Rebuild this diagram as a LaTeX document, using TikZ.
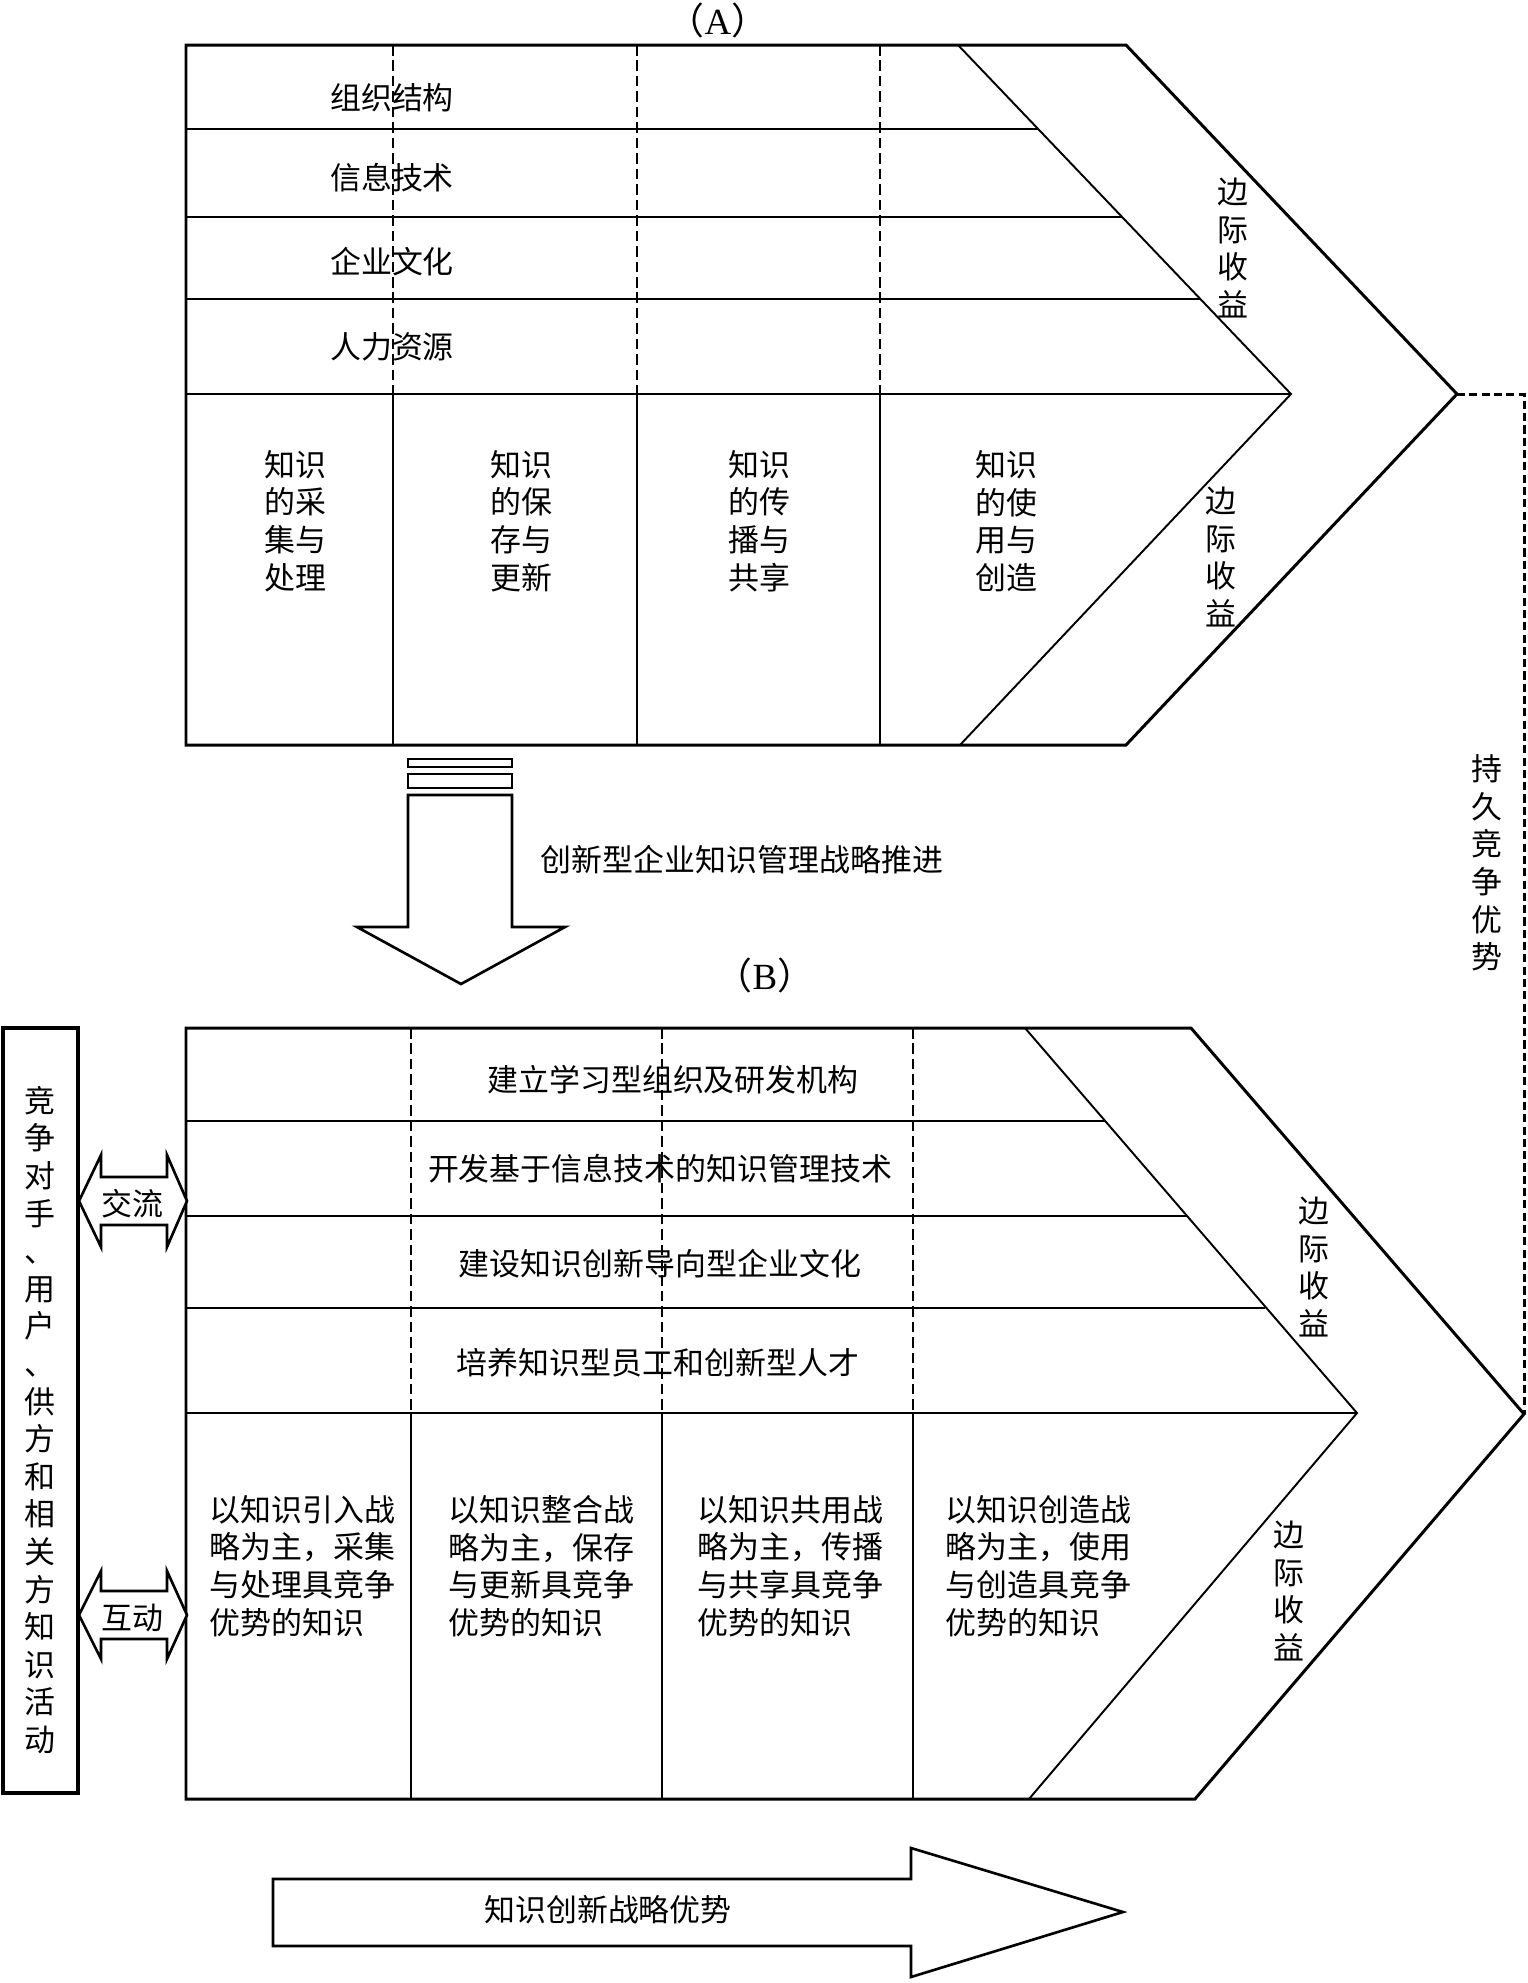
\documentclass[tikz,border=0pt]{standalone}
\usepackage{fontspec}
\setmainfont{Liberation Serif}
\newfontfamily\cjk{Noto Sans CJK SC}
\usetikzlibrary{calc}
\tikzset{
  frame/.style={draw=black, line width=0.85pt, line join=miter},
  rowline/.style={draw=black, line width=0.55pt},
  dashcol/.style={draw=black, line width=0.55pt, dash pattern=on 3pt off 1.4pt},
  linkline/.style={draw=black, line width=0.85pt, dash pattern=on 2.3pt off 1.2pt},
  bigarrow/.style={draw=black, line width=0.75pt, fill=white, line join=miter},
  txt/.style={font=\cjk\fontsize{8.8}{10.7}\selectfont, inner sep=0pt, align=center},
  coltxt/.style={txt, align=left, anchor=west},
  tag/.style={font=\fontsize{10.5}{12}\selectfont, inner sep=0pt}
}

\begin{document}
\begin{tikzpicture}[x=0.1mm, y=-0.1mm]
\path[fill=white, use as bounding box] (0,0) rectangle (1528,1983);

% ---- (A) ----
\node[tag] (tagA) at (718,20) {{\cjk （}A{\cjk ）}};
\draw[rowline] (186,129) -- (1038,129);
\draw[rowline] (186,217) -- (1122,217);
\draw[rowline] (186,299) -- (1200,299);
\draw[rowline] (186,394) -- (1291,394);
\foreach \x in {393,637,880} {
  \draw[dashcol] (\x,45) -- (\x,394);
  \draw[rowline] (\x,394) -- (\x,745);
}
\draw[rowline] (958,45) -- (1291,394) -- (960,745);
\draw[frame] (186,45) -- (1126,45) -- (1457,394) -- (1126,745) -- (186,745) -- cycle;
\coordinate (tipA) at (1457,394);

\node[txt] (orgA) at (392,98) {组织结构};
\node[txt] (itA) at (392,178) {信息技术};
\node[txt] (culA) at (392,262) {企业文化};
\node[txt] (hrA) at (392,347) {人力资源};

\node[txt] (colA1) at (295,521) {知识\\的采\\集与\\处理};
\node[txt] (colA2) at (521,521) {知识\\的保\\存与\\更新};
\node[txt] (colA3) at (759,521) {知识\\的传\\播与\\共享};
\node[txt] (colA4) at (1006,521) {知识\\的使\\用与\\创造};

\node[txt] (gainA1) at (1233,248) {边\\际\\收\\益};
\node[txt] (gainA2) at (1221,557) {边\\际\\收\\益};

% ---- push arrow ----
\draw[bigarrow] (408,759) rectangle (512,767);
\draw[bigarrow] (408,774) rectangle (512,788);
\draw[bigarrow] (408,795) -- (512,795) -- (512,927) -- (565,927) -- (461,984)
  -- (357,927) -- (408,927) -- cycle;
\node[txt] (push) at (742,860) {创新型企业知识管理战略推进};

% ---- (B) ----
\node[tag] (tagB) at (765,975) {{\cjk （}B{\cjk ）}};
\draw[rowline] (186,1121) -- (1105,1121);
\draw[rowline] (186,1216) -- (1187,1216);
\draw[rowline] (186,1308) -- (1265,1308);
\draw[rowline] (186,1413) -- (1357,1413);
\foreach \x in {411,662,913} {
  \draw[dashcol] (\x,1028) -- (\x,1413);
  \draw[rowline] (\x,1413) -- (\x,1799);
}
\draw[rowline] (1025,1028) -- (1357,1413) -- (1029,1799);
\draw[frame] (186,1028) -- (1191,1028) -- (1524,1414) -- (1195,1799) -- (186,1799) -- cycle;
\coordinate (tipB) at (1524,1414);

\node[txt] (orgB) at (673,1080) {建立学习型组织及研发机构};
\node[txt] (itB) at (660,1169) {开发基于信息技术的知识管理技术};
\node[txt] (culB) at (660,1264) {建设知识创新导向型企业文化};
\node[txt] (hrB) at (658,1363) {培养知识型员工和创新型人才};

\node[coltxt] (colB1) at (209,1566) {以知识引入战\\略为主，采集\\与处理具竞争\\优势的知识};
\node[coltxt] (colB2) at (448,1566) {以知识整合战\\略为主，保存\\与更新具竞争\\优势的知识};
\node[coltxt] (colB3) at (697,1566) {以知识共用战\\略为主，传播\\与共享具竞争\\优势的知识};
\node[coltxt] (colB4) at (945,1566) {以知识创造战\\略为主，使用\\与创造具竞争\\优势的知识};

\node[txt] (gainB1) at (1314,1267) {边\\际\\收\\益};
\node[txt] (gainB2) at (1289,1591) {边\\际\\收\\益};

% ---- lasting advantage link ----
\draw[linkline] (tipA) -- (tipA -| tipB) -- (tipB);
\node[txt] (lasting) at (1487,863) {持\\久\\竞\\争\\优\\势};

% ---- outside parties ----
\draw[frame, line width=1pt] (3,1028) rectangle (78,1793);
\node[txt] (parties) at (40,1420) {竞\\争\\对\\手\\、\\用\\户\\、\\供\\方\\和\\相\\关\\方\\知\\识\\活\\动};

\draw[bigarrow] (79,1201) -- (101,1155) -- (101,1177) -- (167,1177) -- (167,1155)
  -- (187,1201) -- (167,1247) -- (167,1225) -- (101,1225) -- (101,1247) -- cycle;
\node[txt] (talk) at (132,1204) {交流};
\draw[bigarrow] (79,1615) -- (101,1571) -- (101,1591) -- (167,1591) -- (167,1571)
  -- (187,1615) -- (167,1659) -- (167,1639) -- (101,1639) -- (101,1659) -- cycle;
\node[txt] (act) at (132,1618) {互动};

% ---- bottom arrow ----
\draw[bigarrow] (273,1879) -- (911,1879) -- (911,1848) -- (1123,1912) -- (911,1977)
  -- (911,1946) -- (273,1946) -- cycle;
\node[txt] (edge) at (608,1910) {知识创新战略优势};
\end{tikzpicture}
\end{document}
